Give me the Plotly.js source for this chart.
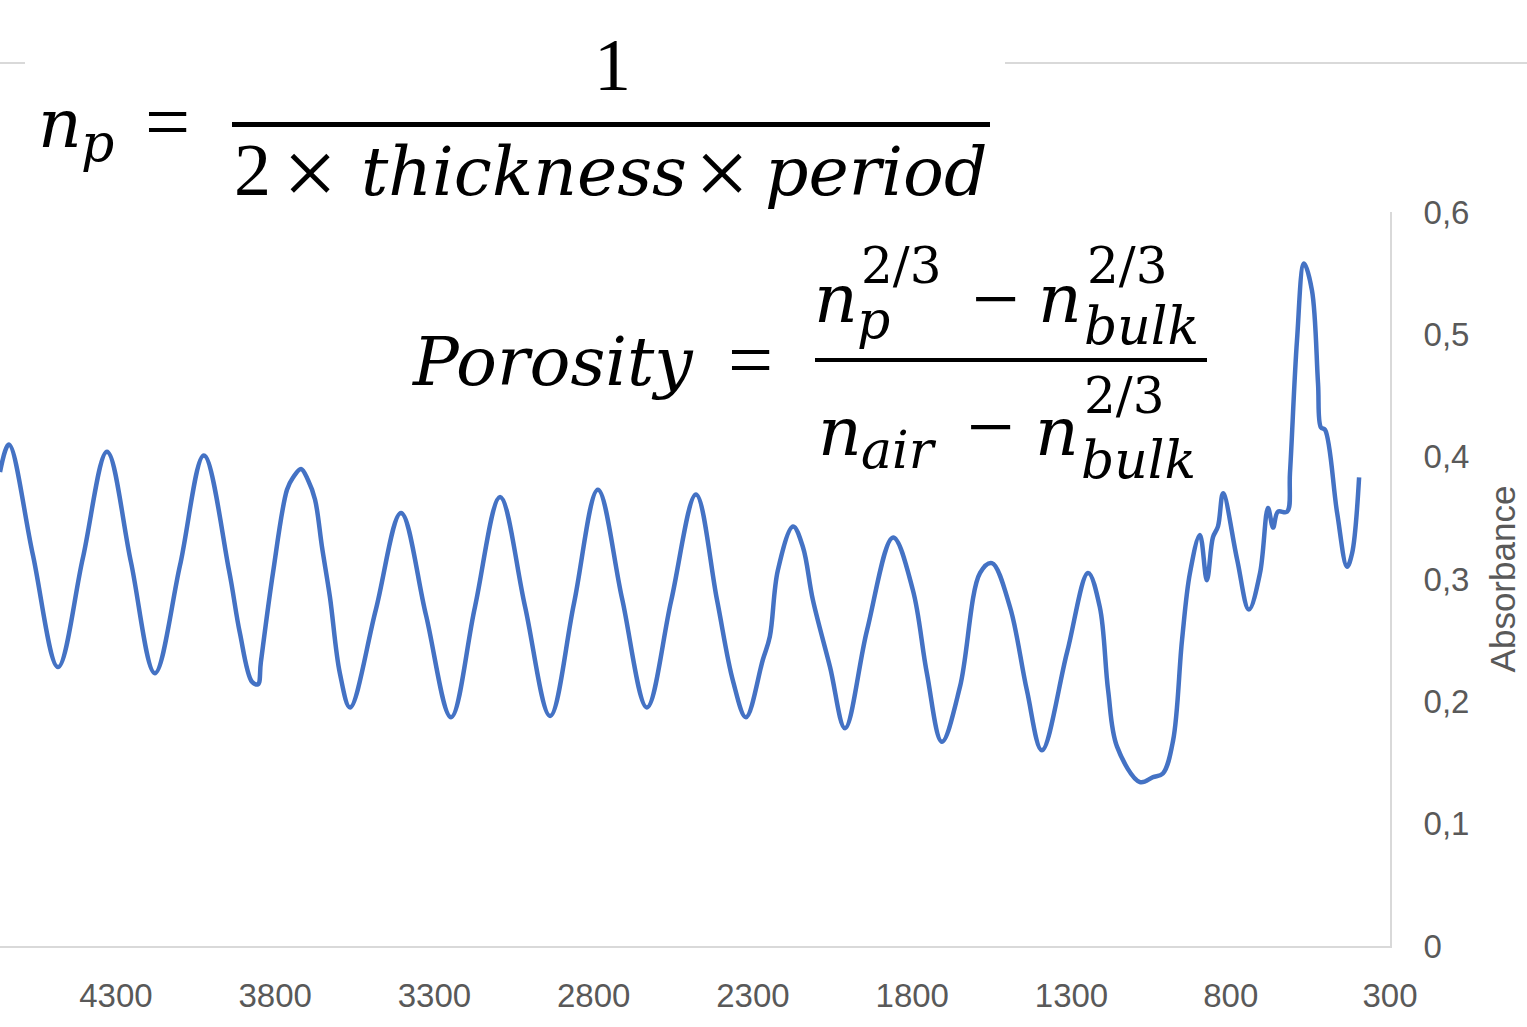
<!DOCTYPE html>
<html>
<head>
<meta charset="utf-8">
<script src="https://cdn.plot.ly/plotly-3.0.1.min.js"></script>
<style>html,body{margin:0;padding:0;background:#fff;}#chart{width:1527px;height:1027px;}</style>
</head>
<body>
<div id="chart"></div>
<script>
// Wavenumber (cm-1) and absorbance
const wavenumber = [4664,4636,4561,4482,4404,4328,4253,4178,4099,4024,3945,3911,3873,3854,3845,3807,3763,3744,3719,3697,3675,3653,3628,3597,3565,3484,3405,3327,3248,3173,3094,3016,2937,2862,2787,2711,2633,2557,2479,2413,2363,2322,2269,2247,2222,2174,2143,2112,2058,2011,1942,1860,1798,1754,1707,1650,1587,1550,1493,1440,1393,1314,1248,1211,1185,1157,1085,1044,1013,981,953,928,897,875,856,840,824,780,743,708,683,667,652,623,614,592,570,545,526,517,504,466,435,419,397];
const absorbance = [0.3875,0.410,0.320,0.228,0.317,0.404,0.314,0.223,0.311,0.401,0.307,0.256,0.216,0.214,0.232,0.305,0.373,0.383,0.390,0.381,0.365,0.326,0.285,0.223,0.195,0.275,0.354,0.271,0.187,0.277,0.367,0.278,0.188,0.280,0.373,0.284,0.195,0.282,0.369,0.283,0.217,0.187,0.234,0.253,0.307,0.343,0.326,0.283,0.228,0.178,0.258,0.334,0.291,0.223,0.167,0.212,0.305,0.313,0.277,0.209,0.160,0.240,0.305,0.277,0.209,0.163,0.134,0.138,0.141,0.168,0.250,0.305,0.336,0.299,0.334,0.343,0.370,0.316,0.275,0.305,0.358,0.342,0.355,0.355,0.387,0.495,0.558,0.536,0.460,0.424,0.422,0.354,0.310,0.321,0.383];

const xTickVals = [4300,3800,3300,2800,2300,1800,1300,800,300];
const xTickText = ["4300","3800","3300","2800","2300","1800","1300","800","300"];
const yTickVals = [0,0.1,0.2,0.3,0.4,0.5,0.6];
const yTickText = ["0","0,1","0,2","0,3","0,4","0,5","0,6"];

// plot area in pixels: left 0, right 1390, top 212, bottom 946
const PL = 0, PR = 1390, PT = 212, PB = 946;
function P(px){ return (px - PL) / (PR - PL); }
function Q(py){ return (PB - py) / (PB - PT); }

const LIB = {family:"Liberation Serif, Times New Roman, serif", asc:0.891, desc:0.216};
const DJV = {family:"DejaVu Serif, serif", asc:0.928, desc:0.236};
function txt(text, x, baseline, size, xanchor, f){
  f = f || DJV;
  return {
    xref:'paper', yref:'paper', showarrow:false,
    x:P(x), y:Q(baseline - (f.asc-f.desc)/2*size),
    xanchor: xanchor || 'left', yanchor:'middle',
    text:text, borderpad:0,
    font:{family:f.family, size:size, color:'#000'}
  };
}
function sym(text, cx, glyphCenter, size){
  const baseline = glyphCenter + 0.32*size;
  return txt(text, cx, baseline, size, 'center', LIB);
}
const I = s => '<i>' + s + '</i>';

const annotations = [
  // n_p = 1 / (2 × thickness × period)
  txt(I('n'), 37, 147, 68),
  txt(I('p'), 80, 161, 52),
  sym('=', 167, 123, 80),
  txt('1', 612, 90, 74, 'center', LIB),
  txt('2', 252, 195, 74, 'center', LIB),
  sym('\u00d7', 310, 174, 96),
  txt(I('thickness'), 360, 195, 68),
  sym('\u00d7', 722, 174, 96),
  txt(I('period'), 764, 195, 68),
  // Porosity
  txt(I('Porosity'), 410, 385, 68),
  sym('=', 750, 361, 80),
  txt(I('n'), 813, 322, 68),
  txt('2/3', 860, 283, 50),
  txt(I('p'), 856, 338, 52),
  sym('\u2212', 995, 300, 84),
  txt(I('n'), 1037, 322, 68),
  txt('2/3', 1086, 283, 50),
  txt(I('bulk'), 1083, 344, 52),
  txt(I('n'), 817, 455, 68),
  txt(I('air'), 860, 468, 52),
  sym('\u2212', 990, 428, 84),
  txt(I('n'), 1034, 455, 68),
  txt('2/3', 1083, 413, 50),
  txt(I('bulk'), 1080, 478, 52)
];

function hline(x0, x1, y, color, w){
  return {type:'line', xref:'paper', yref:'paper', x0:P(x0), x1:P(x1), y0:Q(y), y1:Q(y),
          line:{color:color, width:w}};
}
const shapes = [
  hline(0, 25, 63, '#d9d9d9', 2),
  hline(1005, 1527, 63, '#d9d9d9', 2),
  hline(232, 990, 124.5, '#000', 5),
  hline(815, 1207, 360, '#000', 4)
];

const trace = {
  x: wavenumber, y: absorbance, type:'scatter', mode:'lines',
  line:{color:'#4472c4', width:4.5, shape:'spline', smoothing:1},
  hoverinfo:'skip', showlegend:false
};

const TICKFONT = {family:'Liberation Sans, Arial, sans-serif', size:33, color:'#595959'};
const layout = {
  width:1527, height:1027,
  margin:{l:PL, r:1527-PR, t:PT, b:1027-PB, pad:0},
  paper_bgcolor:'#fff', plot_bgcolor:'#fff',
  showlegend:false,
  xaxis:{
    range:[4664, 300], showgrid:false, zeroline:false,
    showline:true, linecolor:'#d9d9d9', linewidth:2,
    tickmode:'array', tickvals:xTickVals, ticktext:xTickText,
    ticks:'outside', ticklen:19, tickcolor:'rgba(0,0,0,0)',
    tickfont:TICKFONT, automargin:false
  },
  yaxis:{
    range:[0, 0.6], side:'right', showgrid:false, zeroline:false,
    showline:true, linecolor:'#d9d9d9', linewidth:2,
    tickmode:'array', tickvals:yTickVals, ticktext:yTickText,
    ticks:'outside', ticklen:25, tickcolor:'rgba(0,0,0,0)',
    tickfont:TICKFONT, automargin:false,
    title:{text:'Absorbance', font:{family:'Liberation Sans, Arial, sans-serif', size:35, color:'#595959'}, standoff:22}
  },
  annotations:annotations,
  shapes:shapes
};

Plotly.newPlot('chart', [trace], layout, {displayModeBar:false, staticPlot:true});
</script>
</body>
</html>
